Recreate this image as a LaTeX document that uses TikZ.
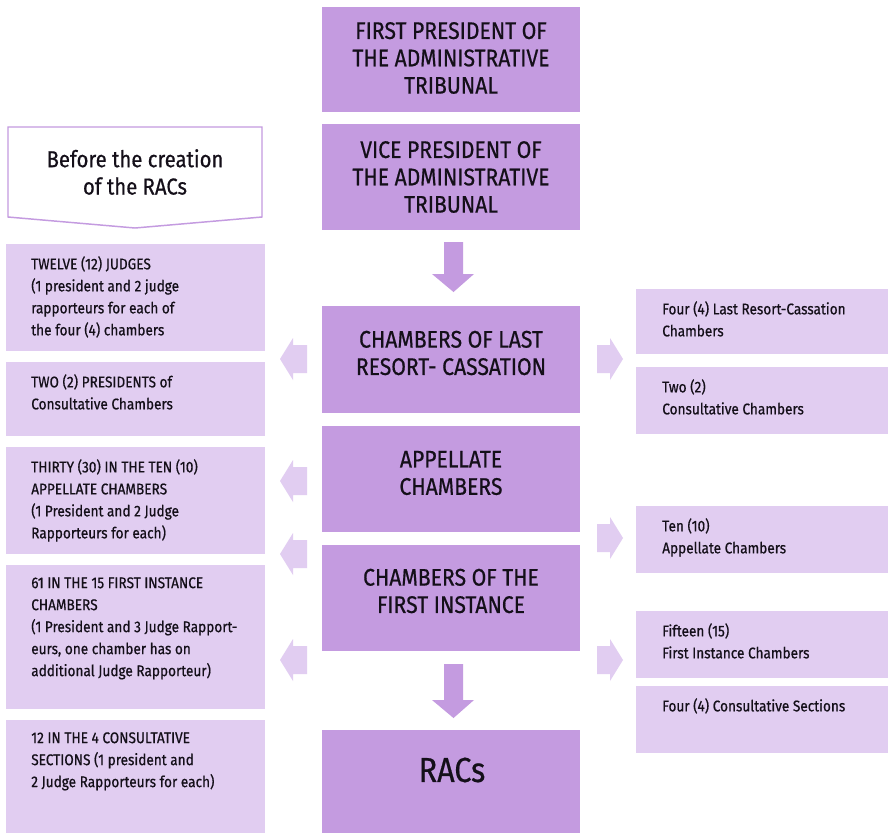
\documentclass[tikz,border=0pt]{standalone}
\usepackage{fontspec}
\setmainfont{Fira Sans}[FakeStretch=0.88,FakeBold=0.6]
\usetikzlibrary{fit}
\definecolor{dk}{RGB}{196,155,224}
\definecolor{lt}{RGB}{225,205,241}
\definecolor{tx}{RGB}{20,15,25}
\begin{document}
\begin{tikzpicture}[x=0.75pt,y=-0.75pt,
  dkbox/.style={fill=dk,draw=none,inner sep=0pt},
  ltbox/.style={fill=lt,draw=none,inner sep=0pt},
  ctext/.style={align=center,text=tx,inner sep=0pt,font=\fontsize{18}{20.5}\selectfont},
  stext/.style={align=left,text=tx,inner sep=0pt,anchor=north west,font=\fontsize{11.6}{16.5}\selectfont},
  dkarrow/.style={fill=dk,draw=none},
  ltarrow/.style={fill=lt,draw=none}]
\useasboundingbox (0,0) rectangle (888,833);
\fill[white] (0,0) rectangle (888,833);
% centre column
\node[dkbox,fit={(322,7) (580,112)}] (b1) {};
\node[dkbox,fit={(322,124) (580,230)}] (b2) {};
\node[dkbox,fit={(322,306) (580,413)}] (b3) {};
\node[dkbox,fit={(322,426) (580,532)}] (b4) {};
\node[dkbox,fit={(322,545) (580,651)}] (b5) {};
\node[dkbox,fit={(322,730) (580,833)}] (b6) {};
\node[ctext] (t1) at (451,58) {FIRST PRESIDENT OF\\THE ADMINISTRATIVE\\TRIBUNAL};
\node[ctext] (t2) at (451,177) {VICE PRESIDENT OF\\THE ADMINISTRATIVE\\TRIBUNAL};
\node[ctext] (t3) at (451,353) {CHAMBERS OF LAST\\RESORT- CASSATION};
\node[ctext] (t4) at (451,473) {APPELLATE\\CHAMBERS};
\node[ctext] (t5) at (451,591) {CHAMBERS OF THE\\FIRST INSTANCE};
\node[ctext,font=\fontsize{26}{30}\selectfont] (t6) at (452,770) {RACs};
% down arrows
\fill[dkarrow] (444,242) -- (463,242) -- (463,274) -- (474,274) -- (453.5,292) -- (432,274) -- (444,274) -- cycle;
\fill[dkarrow] (444,664) -- (463,664) -- (463,700) -- (474,700) -- (453.5,718) -- (432,700) -- (444,700) -- cycle;
% header
\draw[draw=dk,line width=1.1pt,fill=white] (8,127) -- (262,127) -- (262,217) -- (135,228) -- (8,217) -- cycle;
\node[ctext,font=\fontsize{17.3}{20.5}\selectfont] (hd) at (135,172) {Before the creation\\of the RACs};
% left boxes
\node[ltbox,fit={(6,244) (265,351)}] (l1) {};
\node[ltbox,fit={(6,362) (265,436)}] (l2) {};
\node[ltbox,fit={(6,447) (265,554)}] (l3) {};
\node[ltbox,fit={(6,565) (265,709)}] (l4) {};
\node[ltbox,fit={(6,720) (265,833)}] (l5) {};
\node[stext] (lt1) at (31,256) {TWELVE (12) JUDGES\\(1 president and 2 judge\\rapporteurs for each of\\the four (4) chambers};
\node[stext] (lt2) at (31,374) {TWO (2) PRESIDENTS of\\Consultative Chambers};
\node[stext] (lt3) at (31,459) {THIRTY (30) IN THE TEN (10)\\APPELLATE CHAMBERS\\(1 President and 2 Judge\\Rapporteurs for each)};
\node[stext] (lt4) at (31,577) {61 IN THE 15 FIRST INSTANCE\\CHAMBERS\\(1 President and 3 Judge Rapport-\\eurs, one chamber has on\\additional Judge Rapporteur)};
\node[stext] (lt5) at (31,732) {12 IN THE 4 CONSULTATIVE\\SECTIONS (1 president and\\2 Judge Rapporteurs for each)};
% right boxes
\node[ltbox,fit={(636,289) (888,354)}] (r1) {};
\node[ltbox,fit={(636,367) (888,434)}] (r2) {};
\node[ltbox,fit={(636,506) (888,573)}] (r3) {};
\node[ltbox,fit={(636,611) (888,678)}] (r4) {};
\node[ltbox,fit={(636,686) (888,753)}] (r5) {};
\node[stext] (rt1) at (662,301) {Four (4) Last Resort-Cassation\\Chambers};
\node[stext] (rt2) at (662,379) {Two (2)\\Consultative Chambers};
\node[stext] (rt3) at (662,518) {Ten (10)\\Appellate Chambers};
\node[stext] (rt4) at (662,623) {Fifteen (15)\\First Instance Chambers};
\node[stext] (rt5) at (662,698) {Four (4) Consultative Sections};
% left arrows
\foreach \cy in {359,481,554,660}{
  \fill[ltarrow] (280,\cy) -- (293,\cy-21) -- (293,\cy-14) -- (307,\cy-14) -- (307,\cy+14) -- (293,\cy+14) -- (293,\cy+21) -- cycle;
}
% right arrows
\foreach \cy in {359,538,660}{
  \fill[ltarrow] (623,\cy) -- (610,\cy-21) -- (610,\cy-14) -- (597,\cy-14) -- (597,\cy+14) -- (610,\cy+14) -- (610,\cy+21) -- cycle;
}
\end{tikzpicture}
\end{document}
